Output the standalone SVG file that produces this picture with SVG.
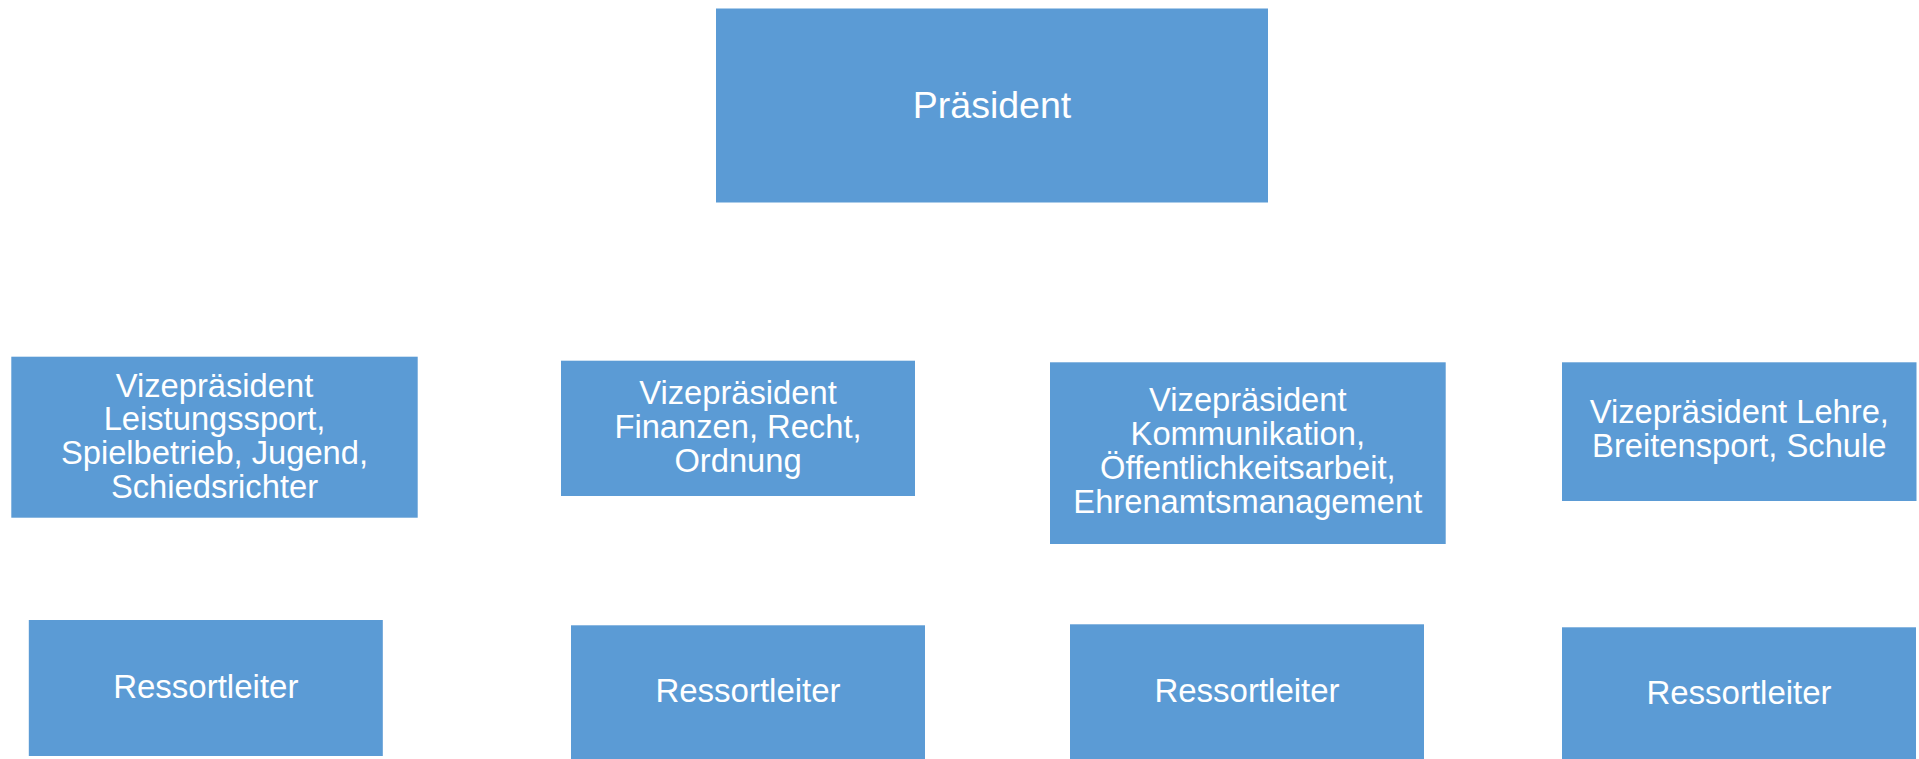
<svg xmlns="http://www.w3.org/2000/svg" width="1919" height="759" viewBox="0 0 1919 759">
<style>
.box{fill:#5B9BD5;}
.t{font-family:"Liberation Sans",Arial,sans-serif;font-size:32.7px;fill:#FFFFFF;text-anchor:middle;}
.tp{font-size:37.5px;}
.tr{font-size:33px;}
</style>
<rect x="0" y="0" width="1919" height="759" fill="#FFFFFF"/>
<g id="connectors"></g>
<g id="praesident">
<rect class="box" x="716" y="8.5" width="552" height="194"/>
<text class="t tp" x="992" y="117.5">Präsident</text>
</g>
<g id="vp1">
<rect class="box" x="11.3" y="356.7" width="406.4" height="161"/>
<text class="t" x="214.5" y="396.7">Vizepräsident</text>
<text class="t" x="214.5" y="430.3">Leistungssport,</text>
<text class="t" x="214.5" y="464">Spielbetrieb, Jugend,</text>
<text class="t" x="214.5" y="497.7">Schiedsrichter</text>
</g>
<g id="vp2">
<rect class="box" x="561" y="360.7" width="354" height="135.3"/>
<text class="t" x="738" y="404">Vizepräsident</text>
<text class="t" x="738" y="438">Finanzen, Recht,</text>
<text class="t" x="738" y="471.7">Ordnung</text>
</g>
<g id="vp3">
<rect class="box" x="1050" y="362.3" width="395.7" height="181.7"/>
<text class="t" x="1247.8" y="411">Vizepräsident</text>
<text class="t" x="1247.8" y="445">Kommunikation,</text>
<text class="t" x="1247.8" y="479">Öffentlichkeitsarbeit,</text>
<text class="t" x="1247.8" y="513.3">Ehrenamtsmanagement</text>
</g>
<g id="vp4">
<rect class="box" x="1562" y="362.3" width="354.5" height="138.7"/>
<text class="t" x="1739.3" y="422.7">Vizepräsident Lehre,</text>
<text class="t" x="1739.3" y="457.3">Breitensport, Schule</text>
</g>
<g id="rl1">
<rect class="box" x="28.8" y="620" width="354" height="136"/>
<text class="t tr" x="205.8" y="698">Ressortleiter</text>
</g>
<g id="rl2">
<rect class="box" x="571" y="625.3" width="354" height="140"/>
<text class="t tr" x="748" y="702">Ressortleiter</text>
</g>
<g id="rl3">
<rect class="box" x="1070" y="624.3" width="354" height="140"/>
<text class="t tr" x="1247" y="701.7">Ressortleiter</text>
</g>
<g id="rl4">
<rect class="box" x="1562" y="627.3" width="354" height="140"/>
<text class="t tr" x="1739" y="704.3">Ressortleiter</text>
</g>
</svg>
